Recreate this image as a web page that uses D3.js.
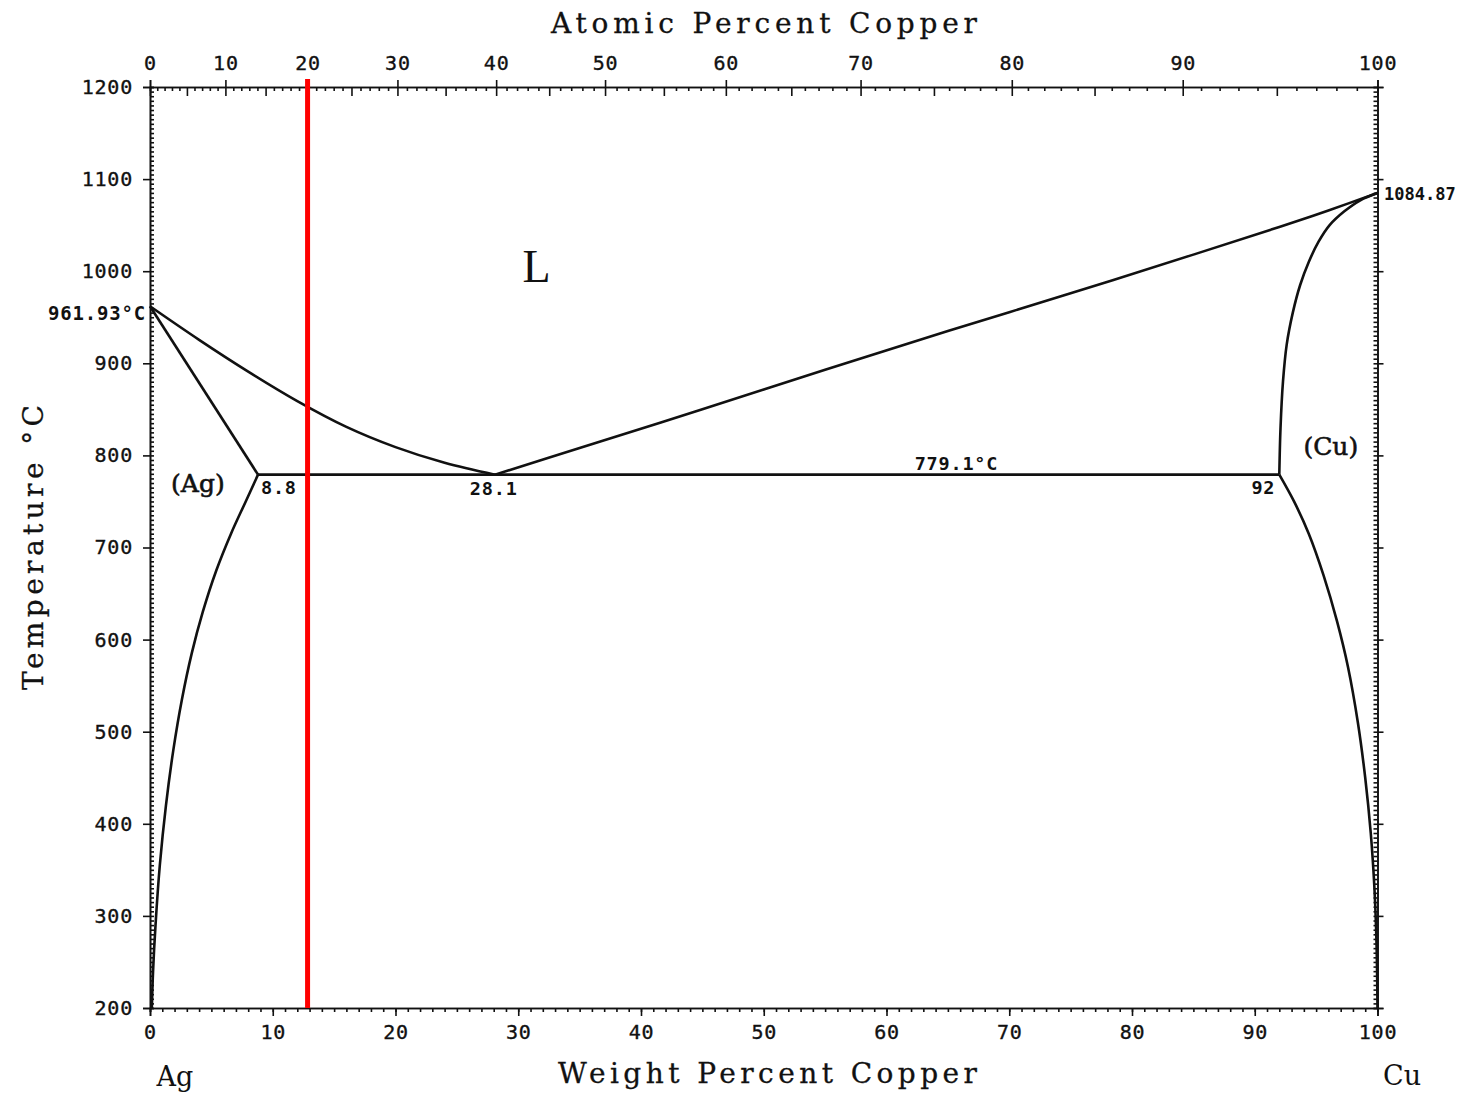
<!DOCTYPE html>
<html><head><meta charset="utf-8">
<script src="https://cdn.jsdelivr.net/npm/d3@7"></script>
<style>
html,body{margin:0;padding:0;background:#fff;}
svg{display:block;}
.tk text{font-family:"DejaVu Sans Mono",monospace;font-size:20px;fill:#111;stroke:#111;stroke-width:0.35px;letter-spacing:0.8px;}
.tk path,.tk line{stroke:#111;stroke-width:1.6px;}
.ttl{font-family:"DejaVu Serif",serif;font-size:28px;fill:#111;stroke:#111;stroke-width:0.3px;}
.lbl{font-family:"DejaVu Sans Mono",monospace;font-weight:bold;font-size:18.5px;fill:#111;letter-spacing:0.8px;}
</style></head>
<body><div id="chart"></div>
<script>
// ---- data (weight % Cu, temperature °C) ----
const wtTicks = [0,10,20,30,40,50,60,70,80,90,100];
const atTicks = [0,10,20,30,40,50,60,70,80,90,100];
const tempTicks = [200,300,400,500,600,700,800,900,1000,1100,1200];

const liquidusAg = [[0,961.93],[4,925.5],[8,891],[12,859],[16,831],[20,809],[24,792],[28.1,779.1]];
const liquidusCu = [[28.1,779.1],[35,808],[45,850],[55,893],[65,935],[75,976],[85,1018],[92,1048],[96,1066],[100,1084.87]];
const solidusAg = [[0,961.93],[8.8,779.1]];
const solvusAg = [[8.8,779.1],[7.8,750],[6.6,715],[5.4,675],[4.3,630],[3.4,585],[2.6,535],[1.9,480],[1.3,420],[0.8,355],[0.45,290],[0.25,240],[0.15,200]];
const solidusCu = [[100,1084.87],[98.6,1077],[97.3,1065],[96.1,1050],[95.2,1032],[94.4,1010],[93.7,985],[93.1,955],[92.6,920],[92.3,880],[92.1,830],[92,779.1]];
const solvusCu = [[92,779.1],[93.2,750],[94.4,715],[95.6,670],[96.7,620],[97.6,570],[98.4,510],[99.0,450],[99.45,390],[99.75,330],[99.92,270],[100,200]];
const eutectic = [[8.8,779.1],[92,779.1]];
const markerAt = [20];   // vertical red line at 20 at.% Cu

const labels = [
  {t:"L", x:31.5, y:1000, cls:"L"},
  {t:"(Ag)", x:3.9, y:767, cls:"ph"},
  {t:"(Cu)", x:96.2, y:808, cls:"ph"},
  {t:"8.8", x:10.5, y:763, cls:"lbl"},
  {t:"28.1", x:28, y:762, cls:"lbl"},
  {t:"779.1°C", x:65.7, y:790, cls:"lbl"},
  {t:"92", x:90.7, y:763, cls:"lbl"}
];

// ---- conversion at.% -> wt.% (Cu 63.546, Ag 107.868) ----
const MCu = 63.546, MAg = 107.868;
const wtFromAt = a => a*MCu/(a*MCu + (100-a)*MAg)*100;

const W = 1463, H = 1094;
const x = d3.scaleLinear().domain([0,100]).range([150,1377.5]);
const y = d3.scaleLinear().domain([200,1200]).range([1008,87]);

const svg = d3.select("#chart").append("svg").attr("width",W).attr("height",H);

// ---- axes ----
svg.append("g").attr("class","tk").attr("transform","translate(0,1008)")
  .call(d3.axisBottom(x).tickValues(d3.range(0,101,1)).tickSize(4).tickFormat(""));
svg.append("g").attr("class","tk").attr("transform","translate(0,1008)")
  .call(d3.axisBottom(x).tickValues(wtTicks).tickSize(8).tickPadding(9).tickFormat(d3.format("d")));
const atMinor = d3.range(0,101,1);
svg.append("g").attr("class","tk").attr("transform","translate(0,87)")
  .call(d3.axisBottom(x).tickValues(atMinor.map(wtFromAt)).tickSize(4).tickFormat(""))
  .selectAll(".tick line").attr("y2",(d,i)=> atMinor[i]%5===0 ? 9 : 4);
svg.append("g").attr("class","tk").attr("transform","translate(0,87)")
  .call(d3.axisTop(x).tickValues(atTicks.map(wtFromAt)).tickSize(7).tickPadding(10).tickFormat((d,i)=>atTicks[i]));
svg.append("g").attr("class","tk").attr("transform","translate(150,0)")
  .call(d3.axisRight(y).tickValues(d3.range(200,1201,5)).tickSize(4).tickFormat(""));
svg.append("g").attr("class","tk").attr("transform","translate(150,0)")
  .call(d3.axisLeft(y).tickValues(tempTicks).tickSize(7).tickPadding(10).tickFormat(d3.format("d")));
svg.append("g").attr("class","tk").attr("transform","translate(1377.5,0)")
  .call(d3.axisLeft(y).tickValues(d3.range(200,1201,5)).tickSize(4).tickFormat(""));
svg.append("g").attr("class","tk").attr("transform","translate(1377.5,0)")
  .call(d3.axisRight(y).tickValues(tempTicks).tickSize(6).tickFormat(""));
svg.selectAll(".tk .domain").attr("stroke-width",2.2);

// ---- phase boundaries ----
const line = d3.line().x(d=>x(d[0])).y(d=>y(d[1])).curve(d3.curveCatmullRom.alpha(0.5));
const lineLin = d3.line().x(d=>x(d[0])).y(d=>y(d[1]));
[liquidusAg, liquidusCu, solvusAg, solidusCu, solvusCu].forEach(c=>{
  svg.append("path").attr("d",line(c)).attr("fill","none").attr("stroke","#111").attr("stroke-width",2.6);
});
[solidusAg, eutectic].forEach(c=>{
  svg.append("path").attr("d",lineLin(c)).attr("fill","none").attr("stroke","#111").attr("stroke-width",2.6);
});

// ---- red marker ----
markerAt.forEach(a=>{
  svg.append("line").attr("x1",x(wtFromAt(a))).attr("x2",x(wtFromAt(a)))
    .attr("y1",79).attr("y2",y(200)).attr("stroke","#ff0000").attr("stroke-width",5);
});

// ---- labels ----
labels.forEach(l=>{
  const t = svg.append("text").attr("x",x(l.x)).attr("y",y(l.y)).attr("text-anchor","middle")
    .attr("dominant-baseline","middle").text(l.t);
  if(l.cls==="L") t.attr("font-family","Liberation Serif").attr("font-size",46).attr("fill","#111");
  else if(l.cls==="ph") t.attr("font-family","DejaVu Serif").attr("font-size",25).attr("fill","#111").attr("stroke","#111").attr("stroke-width",0.6);
  else t.attr("class","lbl");
});
svg.append("text").attr("class","lbl").attr("x",146).attr("y",y(961.93)+8).attr("text-anchor","end")
  .attr("dominant-baseline","middle").style("font-size","19px").text("961.93°C");
svg.append("text").attr("class","lbl").attr("x",1384).attr("y",y(1084.87)+2).attr("text-anchor","start")
  .attr("dominant-baseline","middle").style("font-size","17px").style("letter-spacing","0px").text("1084.87");

// axis titles
svg.append("text").attr("class","ttl").attr("x",551).attr("y",33).attr("textLength",426).attr("lengthAdjust","spacing").text("Atomic Percent Copper");
svg.append("text").attr("class","ttl").attr("x",558).attr("y",1083).attr("textLength",419).attr("lengthAdjust","spacing").text("Weight Percent Copper");
svg.append("text").attr("class","ttl").attr("transform","translate(43,690) rotate(-90)").attr("textLength",285).attr("lengthAdjust","spacing").text("Temperature °C");
svg.append("text").attr("x",175).attr("y",1086).attr("text-anchor","middle").attr("font-family","DejaVu Serif").attr("font-size",27).attr("fill","#111").text("Ag");
svg.append("text").attr("x",1402).attr("y",1085).attr("text-anchor","middle").attr("font-family","DejaVu Serif").attr("font-size",27).attr("fill","#111").text("Cu");
</script></body></html>
